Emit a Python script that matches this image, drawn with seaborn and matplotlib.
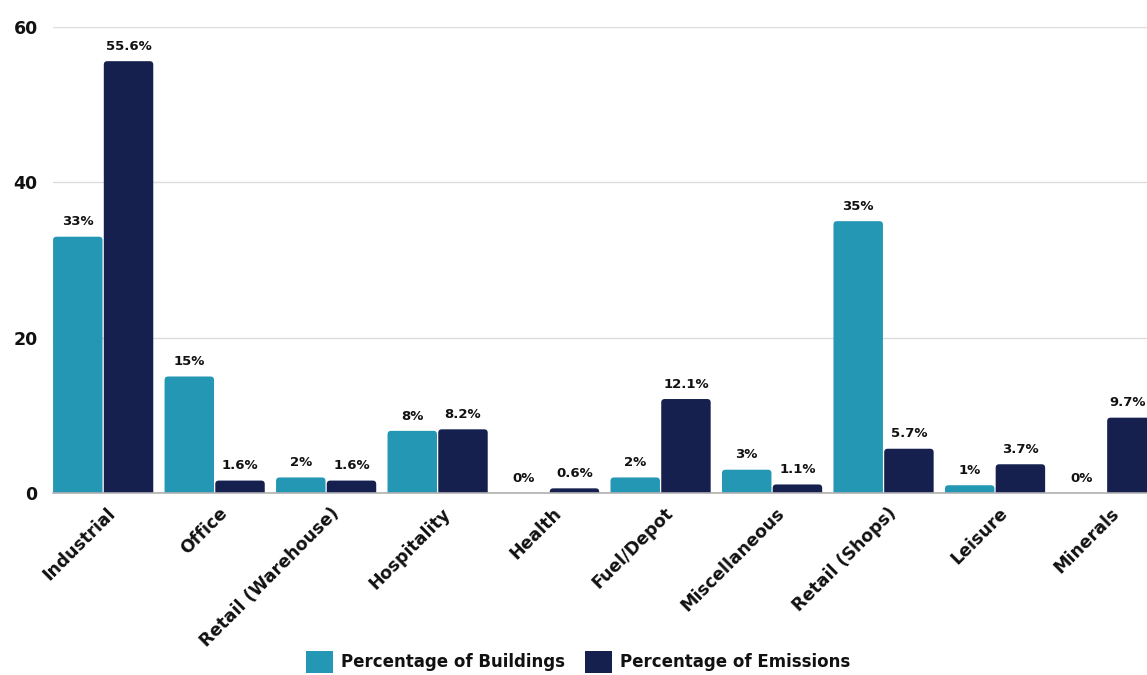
import matplotlib
matplotlib.use("Agg")
import matplotlib.pyplot as plt
import matplotlib.transforms as mtransforms
from matplotlib.patches import Patch, FancyBboxPatch
import seaborn as sns
import pandas as pd

categories = ["Industrial", "Office", "Retail (Warehouse)", "Hospitality", "Health",
              "Fuel/Depot", "Miscellaneous", "Retail (Shops)", "Leisure", "Minerals"]
buildings = [33, 15, 2, 8, 0, 2, 3, 35, 1, 0]
emissions = [55.6, 1.6, 1.6, 8.2, 0.6, 12.1, 1.1, 5.7, 3.7, 9.7]
series_names = ["Percentage of Buildings", "Percentage of Emissions"]
yticks = [0, 20, 40, 60]

colors = ["#2397B3", "#15204E"]

df = pd.DataFrame({
    "category": categories * 2,
    "value": buildings + emissions,
    "series": [series_names[0]] * len(categories) + [series_names[1]] * len(categories),
})

sns.set_theme(style="white")
plt.rcParams["font.family"] = ["DejaVu Sans"]

W, H = 1147, 675
fig = plt.figure(figsize=(W / 100, H / 100), dpi=100)
# axes: x from 53px to 1147px, y 0 at 493px, 60 at 27px
ax = fig.add_axes([53 / W, (H - 493) / H, (1147 - 53) / W, (493 - 27) / H])

sns.barplot(data=df, x="category", y="value", hue="series", hue_order=series_names,
            palette=colors, width=0.91, gap=0.025, ax=ax, legend=False,
            saturation=1, edgecolor="none")

ax.set_xlim(-0.45, 9.363)
ax.set_ylim(0, 60)

# rounded top corners (bottom rounding hidden below the baseline by clipping)
px_x = (1147 - 53) / (9.363 + 0.45)   # pixels per x unit
px_y = (493 - 27) / 60.0              # pixels per y unit
r = 3.5 / px_x
asp = px_x / px_y
for cont in ax.containers:
    for p in cont.patches:
        x, y0, w, h = p.get_x(), p.get_y(), p.get_width(), p.get_height()
        if h > 0:
            ext = r * asp
            fb = FancyBboxPatch((x, y0 - ext), w, h + ext,
                                boxstyle=f"round,pad=0,rounding_size={r}",
                                mutation_aspect=asp, facecolor=p.get_facecolor(),
                                edgecolor="none", zorder=p.get_zorder())
            ax.add_patch(fb)
            fb.set_clip_path(ax.patch)
        p.set_visible(False)

ax.set_yticks(yticks)
ax.set_yticklabels([str(t) for t in yticks], fontsize=12.5, fontweight="bold", color="#111111")
ax.yaxis.grid(True, color="#dcdcdc", linewidth=1)
ax.set_axisbelow(True)
for s in ["top", "right", "left"]:
    ax.spines[s].set_visible(False)
ax.spines["bottom"].set_color("#b0b0b0")
ax.spines["bottom"].set_linewidth(1.2)
ax.spines["bottom"].set_zorder(5)
ax.tick_params(axis="y", length=0, pad=11)
ax.tick_params(axis="x", length=0, pad=4)
ax.set_xlabel("")
ax.set_ylabel("")

ax.set_xticks(range(len(categories)))
ax.set_xticklabels(categories, rotation=45, ha="right", va="center",
                   rotation_mode="anchor", fontsize=12.5, fontweight="bold", color="#111111")
offset = mtransforms.ScaledTranslation(10 / 100, -12 / 100, fig.dpi_scale_trans)
for lbl in ax.get_xticklabels():
    lbl.set_transform(lbl.get_transform() + offset)

for ci, cont in enumerate(ax.containers):
    texts = ax.bar_label(cont, labels=[f"{v:g}%" for v in cont.datavalues], padding=6,
                         fontsize=9.5, fontweight="bold", color="#111111", clip_on=False)
    if ci == 1:
        t = texts[-1]
        t.xyann = (t.xyann[0] - 3, t.xyann[1])

handles = [Patch(facecolor=c, edgecolor="none") for c in colors]
fig.legend(handles, series_names, loc="center", bbox_to_anchor=(578 / W, (H - 662) / H),
           ncol=2, frameon=False, handlelength=1.6, handleheight=1.6,
           handletextpad=0.5, columnspacing=1.2, labelcolor="#111111",
           prop={"size": 12, "weight": "bold"})

fig.savefig("out.png", dpi=100)
